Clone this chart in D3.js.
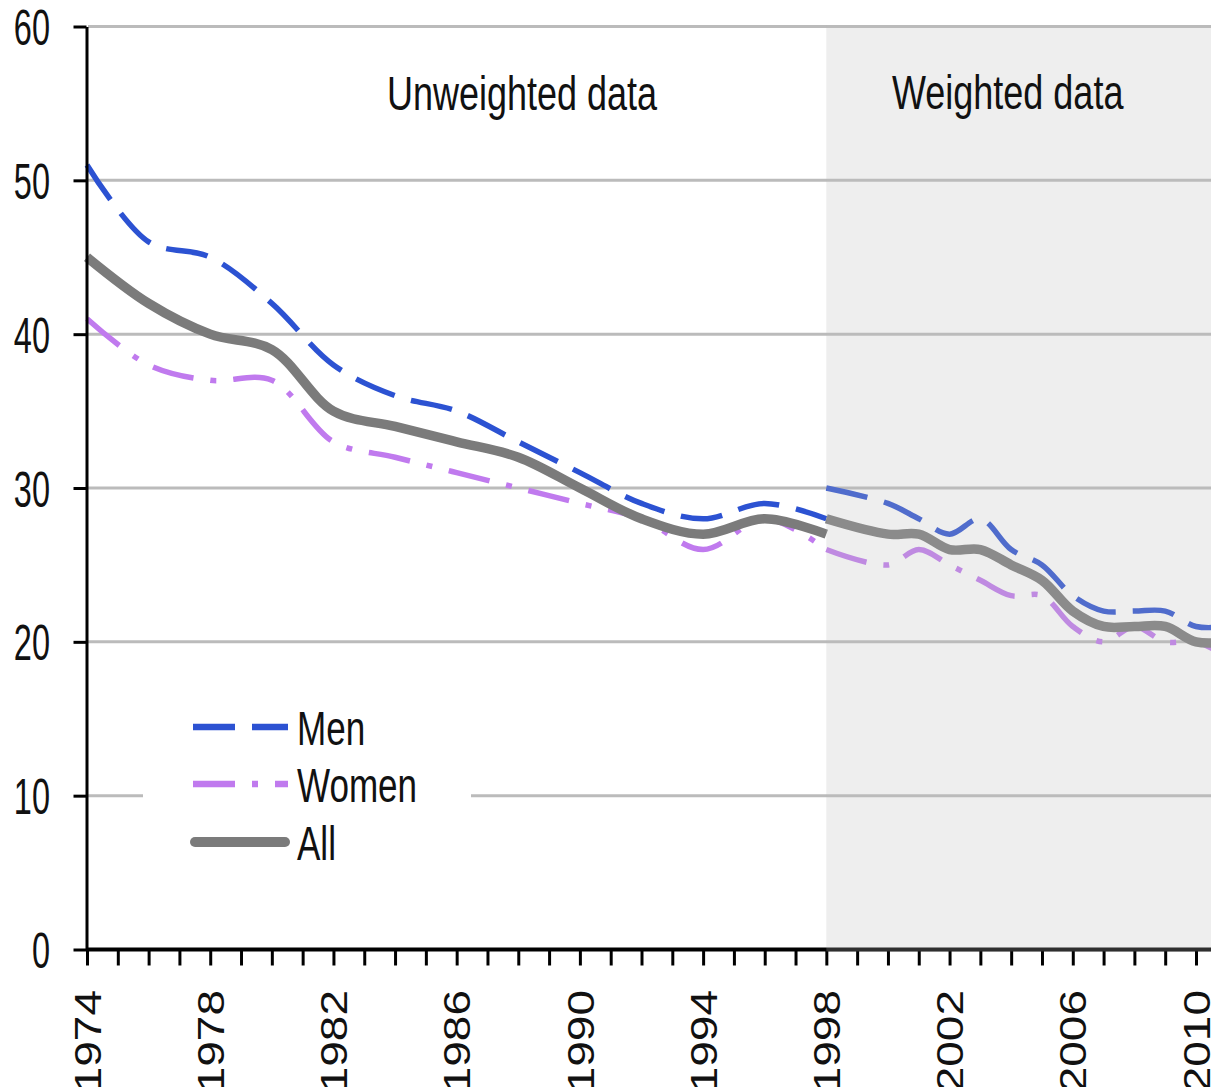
<!DOCTYPE html>
<html>
<head>
<meta charset="utf-8">
<script src="https://cdn.jsdelivr.net/npm/d3@7"></script>
<style>
  html, body { margin: 0; padding: 0; background: #fff; }
  svg { display: block; }
  text { font-family: "Liberation Sans", Arial, sans-serif; fill: #111; }
</style>
</head>
<body>
<svg id="chart" width="1211" height="1087"></svg>
<script>
// ---- data ----
const yearsUnweighted = [1974, 1976, 1978, 1980, 1982, 1984, 1986, 1988, 1990, 1992, 1994, 1996, 1998];
const menUnweighted   = [51, 46, 45, 42, 38, 36, 35, 33, 31, 29, 28, 29, 28];
const womenUnweighted = [41, 38, 37, 37, 33, 32, 31, 30, 29, 28, 26, 28, 26];
const allUnweighted   = [45, 42, 40, 39, 35, 34, 33, 32, 30, 28, 27, 28, 27];

const yearsWeighted = [1998, 2000, 2001, 2002, 2003, 2004, 2005, 2006, 2007, 2008, 2009, 2010, 2011];
const menWeighted   = [30, 29, 28, 27, 28, 26, 25, 23, 22, 22, 22, 21, 21];
const womenWeighted = [26, 25, 26, 25, 24, 23, 23, 21, 20, 21, 20, 20, 19];
const allWeighted   = [28, 27, 27, 26, 26, 25, 24, 22, 21, 21, 21, 20, 20];

const yTicks = [0, 10, 20, 30, 40, 50, 60];
const xTickYears = d3.range(1974, 2012);
const xLabelYears = [1974, 1978, 1982, 1986, 1990, 1994, 1998, 2002, 2006, 2010];
const sectionLabels = ["Unweighted data", "Weighted data"];
const seriesNames = ["Men", "Women", "All"];

// ---- layout ----
const W = 1211, H = 1087;
const svg = d3.select("#chart");
const x = d3.scaleLinear().domain([1974, 2010]).range([87, 1196]);
const y = d3.scaleLinear().domain([0, 60]).range([949.5, 26.5]);

const styles = {
  Men:   { color: "#2c52d2", width: 5.5, dash: "42,17" },
  Women: { color: "#c07aee", width: 5.5, dash: "42,17,6,17" },
  All:   { color: "#7b7b7b", width: 9.5, dash: null }
};

// gridlines
svg.append("g").selectAll("line")
  .data(yTicks.filter(d => d > 0))
  .join("line")
  .attr("x1", 88).attr("x2", W)
  .attr("y1", d => y(d)).attr("y2", d => y(d))
  .attr("stroke", "#bbbbbb").attr("stroke-width", 3);

// legend background (hides gridline)
const legend = svg.append("g");
legend.append("rect").attr("x", 143).attr("y", 700).attr("width", 328).attr("height", 170).attr("fill", "#fff");

// lines
const line = d3.line().x(d => x(d[0])).y(d => y(d[1])).curve(d3.curveCatmullRom.alpha(0.5));
const series = [
  ["Men", yearsUnweighted, menUnweighted], ["Women", yearsUnweighted, womenUnweighted], ["All", yearsUnweighted, allUnweighted],
  ["Men", yearsWeighted, menWeighted], ["Women", yearsWeighted, womenWeighted], ["All", yearsWeighted, allWeighted]
];
const order = ["Men", "Women", "All"];
order.forEach(name => {
  series.filter(s => s[0] === name).forEach(s => {
    const st = styles[name];
    svg.append("path")
      .datum(s[1].map((yr, i) => [yr, s[2][i]]))
      .attr("d", line)
      .attr("fill", "none")
      .attr("stroke", st.color)
      .attr("stroke-width", st.width)
      .attr("stroke-linejoin", "round")
      .attr("stroke-linecap", "butt")
      .attr("stroke-dasharray", st.dash);
  });
});

// x axis
const xAxis = d3.axisBottom(x).tickValues(xTickYears).tickSize(16).tickSizeOuter(0).tickFormat(d => xLabelYears.includes(d) ? String(d) : "");
const gx = svg.append("g").attr("transform", `translate(0,${y(0)})`).call(xAxis);
gx.select(".domain").attr("stroke", "#000").attr("stroke-width", 4).attr("d", `M${x(1974)},0H${W}`);
gx.selectAll(".tick line").attr("stroke", "#000").attr("stroke-width", 3);
gx.selectAll(".tick text")
  .attr("x", 0).attr("y", 0).attr("dy", "0.35em")
  .attr("text-anchor", "end")
  .attr("font-size", 46)
  .attr("transform", "translate(0,40.5) rotate(-90) scale(1,0.82)")
  .style("font-family", '"Liberation Sans", Arial, sans-serif')
  .attr("fill", "#111");

// y axis
const yAxis = d3.axisLeft(y).tickValues(yTicks).tickSize(13).tickSizeOuter(0);
const gy = svg.append("g").attr("transform", `translate(86.5,0)`).call(yAxis);
gy.select(".domain").attr("stroke", "#000").attr("stroke-width", 3);
gy.selectAll(".tick line").attr("stroke", "#000").attr("stroke-width", 3);
gy.selectAll(".tick text")
  .attr("x", 0).attr("dy", "0.36em")
  .attr("text-anchor", "end")
  .attr("font-size", 50)
  .attr("transform", "translate(-36.5,0) scale(0.65,1)")
  .style("font-family", '"Liberation Sans", Arial, sans-serif')
  .attr("fill", "#111");

// weighted-data shading overlay
svg.append("rect")
  .attr("x", x(1998)).attr("y", y(60) - 1.5)
  .attr("width", W - x(1998)).attr("height", y(0) - y(60) + 3.5)
  .attr("fill", "rgb(187,187,187)").attr("fill-opacity", 0.25);

// section labels
svg.append("text").text(sectionLabels[0]).attr("font-size", 48)
  .attr("transform", "translate(387,110) scale(0.75,1)");
svg.append("text").text(sectionLabels[1]).attr("font-size", 48)
  .attr("transform", "translate(892,109) scale(0.75,1)");

// legend entries
const legendY = [727, 784, 842];
seriesNames.forEach((name, i) => {
  const st = styles[name];
  const ln = legend.append("line")
    .attr("y1", legendY[i]).attr("y2", legendY[i])
    .attr("stroke", st.color).attr("stroke-width", name === "All" ? 10 : 6.5);
  if (name === "All") {
    ln.attr("x1", 195).attr("x2", 285).attr("stroke-linecap", "round");
  } else {
    ln.attr("x1", 193).attr("x2", 288).attr("stroke-dasharray", st.dash);
  }
  legend.append("text").text(name).attr("font-size", 48)
    .attr("transform", `translate(297,${legendY[i] + 18}) scale(0.73,1)`);
});
</script>
</body>
</html>
